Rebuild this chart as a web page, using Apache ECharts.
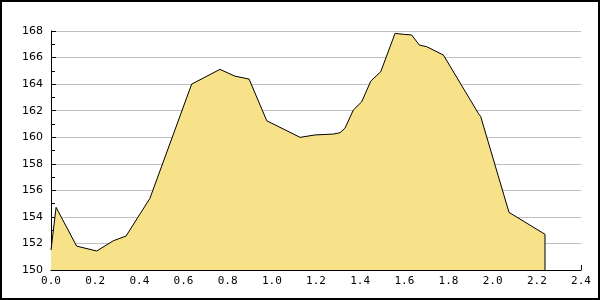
<!DOCTYPE html>
<html>
<head>
<meta charset="utf-8">
<script src="https://cdn.jsdelivr.net/npm/echarts@6/dist/echarts.min.js"></script>
<style>html,body{margin:0;padding:0;background:#fff}#c{width:600px;height:300px}</style>
</head>
<body>
<div id="c"></div>
<script>
var xValues = [0, 0.023, 0.116, 0.207, 0.282, 0.34, 0.448, 0.637, 0.765, 0.833, 0.897, 0.977, 1.128, 1.195, 1.279, 1.309, 1.331, 1.369, 1.407, 1.448, 1.493, 1.558, 1.596, 1.633, 1.668, 1.701, 1.777, 1.935, 1.946, 2.074, 2.237, 2.237];
var yValues = [151.5, 154.72, 151.8, 151.43, 152.2, 152.56, 155.4, 164.0, 165.11, 164.6, 164.38, 161.24, 159.99, 160.17, 160.24, 160.34, 160.67, 162.05, 162.67, 164.23, 164.93, 167.82, 167.75, 167.7, 166.94, 166.82, 166.19, 161.8, 161.55, 154.34, 152.69, 150];
var xTicks = [0, 0.2, 0.4, 0.6, 0.8, 1.0, 1.2, 1.4, 1.6, 1.8, 2.0, 2.2, 2.4];
var yTicks = [150, 152, 154, 156, 158, 160, 162, 164, 166, 168];

var data = xValues.map(function (x, i) { return [x, yValues[i]]; });
var chart = echarts.init(document.getElementById('c'), null, {renderer: 'canvas'});
chart.setOption({
  animation: false,
  backgroundColor: '#ffffff',
  graphic: [{
    type: 'rect', shape: {x: 1, y: 1, width: 598, height: 298},
    style: {fill: 'none', stroke: '#000', lineWidth: 2}, z: 100
  }],
  grid: {left: 51, right: 19, top: 31, bottom: 30},
  xAxis: {
    type: 'value', min: xTicks[0], max: xTicks[xTicks.length - 1], interval: 0.2,
    axisLine: {lineStyle: {color: '#000', width: 1}},
    axisTick: {inside: true, length: 5, lineStyle: {color: '#000'}},
    axisLabel: {
      color: '#000', fontFamily: 'DejaVu Sans Mono', fontSize: 11, margin: 6,
      formatter: function (v) { return v.toFixed(1); }
    },
    splitLine: {show: false}
  },
  yAxis: {
    type: 'value', min: yTicks[0], max: yTicks[yTicks.length - 1], interval: 2,
    axisLine: {show: true, lineStyle: {color: '#000', width: 1}},
    axisTick: {inside: true, length: 5, lineStyle: {color: '#000'}},
    minorTick: {show: true, splitNumber: 2, length: 4, lineStyle: {color: '#000'}},
    axisLabel: {color: '#000', fontFamily: 'DejaVu Sans', fontSize: 11, margin: 8},
    splitLine: {show: true, lineStyle: {color: '#c0c0c0', width: 1}}
  },
  series: [{
    type: 'line', data: data, symbol: 'none', smooth: false,
    lineStyle: {color: '#000', width: 1},
    areaStyle: {color: '#f7e189', opacity: 1}
  }]
});
</script>
</body>
</html>
